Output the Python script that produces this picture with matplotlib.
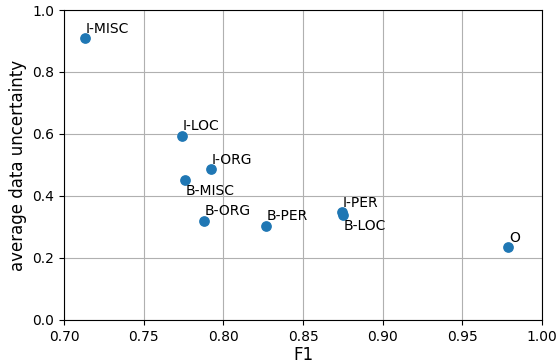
import matplotlib
matplotlib.use("Agg")
import matplotlib.pyplot as plt

labels = ["I-MISC", "I-LOC", "I-ORG", "B-MISC", "B-ORG", "B-PER", "I-PER", "B-LOC", "O"]
f1 = [0.713, 0.774, 0.7924, 0.7759, 0.7878, 0.8269, 0.8746, 0.8748, 0.9787]
uncertainty = [0.909, 0.595, 0.486, 0.452, 0.320, 0.303, 0.347, 0.340, 0.234]
below = {"B-MISC", "B-LOC"}

fig = plt.figure(figsize=(5.56, 3.64), dpi=100)
ax = fig.add_axes([0.115, 0.121, 0.86, 0.8515])
ax.scatter(f1, uncertainty, s=45, color="#1f77b4", zorder=3)
for lab, x, y in zip(labels, f1, uncertainty):
    if lab in below:
        ax.annotate(lab, (x, y), xytext=(0.5, -11), textcoords="offset points",
                    fontsize=10, ha="left", va="baseline")
    else:
        ax.annotate(lab, (x, y), xytext=(0.5, 4), textcoords="offset points",
                    fontsize=10, ha="left", va="baseline")
ax.set_xlim(0.70, 1.00)
ax.set_ylim(0.0, 1.0)
ax.set_xticks([0.70, 0.75, 0.80, 0.85, 0.90, 0.95, 1.00])
ax.set_yticks([0.0, 0.2, 0.4, 0.6, 0.8, 1.0])
ax.grid(True, color="#b0b0b0", linewidth=0.8)
ax.set_axisbelow(True)
ax.set_xlabel("F1", fontsize=12, labelpad=2)
ax.set_ylabel("average data uncertainty", fontsize=12)
fig.savefig("out.png", dpi=100)
